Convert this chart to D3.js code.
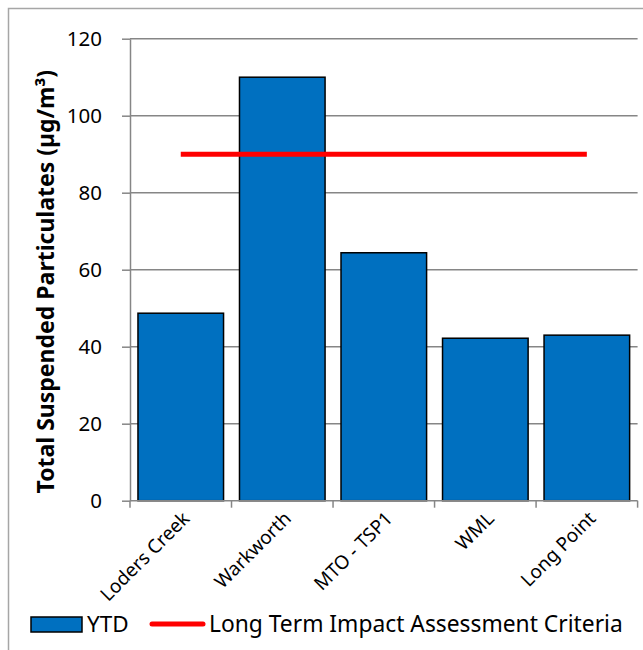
<!DOCTYPE html>
<html>
<head>
<meta charset="utf-8">
<script src="https://cdn.jsdelivr.net/npm/d3@7"></script>
<style>
  html, body { margin: 0; padding: 0; background: #fff; }
  svg { display: block; font-family: "Noto Sans", "Open Sans", sans-serif; }
</style>
</head>
<body>
<svg id="chart" width="643" height="650"></svg>
<script>
// Monitoring sites and their year-to-date TSP averages (µg/m³)
const categories = ["Loders Creek", "Warkworth", "MTO - TSP1", "WML", "Long Point"];
const ytdValues = [48.7, 110, 64.4, 42.2, 43.0];
// Long term impact assessment criterion at each site
const criteriaValues = [90, 90, 90, 90, 90];
const yTicks = [0, 20, 40, 60, 80, 100, 120];
const seriesNames = ["YTD", "Long Term Impact Assessment Criteria"];
const yTitle = "Total Suspended Particulates (µg/m³)";

const svg = d3.select("#chart");
const plot = { left: 130, right: 637.6, top: 38.7, bottom: 500.7 };
const gridColor = "#868686";
const barColor = "#0070c0";
const lineColor = "#ff0000";

// outer frame
svg.append("rect")
  .attr("x", 8.5).attr("y", 8.5)
  .attr("width", 660).attr("height", 660)
  .attr("fill", "none").attr("stroke", "#a6a6a6").attr("stroke-width", 1.5);

const x = d3.scaleBand()
  .domain(categories)
  .range([plot.left, plot.right])
  .paddingInner(0.157)
  .paddingOuter(0.0785);

const y = d3.scaleLinear()
  .domain([0, 120])
  .range([plot.bottom, plot.top]);

// horizontal gridlines
svg.append("g")
  .selectAll("line")
  .data(yTicks.filter(d => d > 0))
  .join("line")
  .attr("x1", plot.left).attr("x2", plot.right)
  .attr("y1", d => y(d)).attr("y2", d => y(d))
  .attr("stroke", gridColor).attr("stroke-width", 1.5);

// y axis
const yAxis = svg.append("g")
  .attr("transform", `translate(${plot.left},0)`)
  .call(d3.axisLeft(y).tickValues(yTicks).tickSize(8).tickPadding(20).tickSizeOuter(0));
yAxis.select(".domain").attr("stroke", gridColor).attr("stroke-width", 1.5);
yAxis.selectAll(".tick line").attr("stroke", gridColor).attr("stroke-width", 1.5);
yAxis.selectAll(".tick text")
  .attr("font-size", 20.5).attr("fill", "#000")
  .attr("font-family", "'Noto Sans', sans-serif");

// bars
svg.append("g")
  .selectAll("rect")
  .data(categories.map((c, i) => ({ c, v: ytdValues[i] })))
  .join("rect")
  .attr("x", d => x(d.c))
  .attr("y", d => y(d.v))
  .attr("width", x.bandwidth())
  .attr("height", d => y(0) - y(d.v))
  .attr("fill", barColor)
  .attr("stroke", "#000").attr("stroke-width", 1.5);

// x axis with ticks on category boundaries
const step = x.step();
const xAxisG = svg.append("g");
xAxisG.append("line")
  .attr("x1", plot.left).attr("x2", plot.right)
  .attr("y1", plot.bottom).attr("y2", plot.bottom)
  .attr("stroke", gridColor).attr("stroke-width", 1.5);
xAxisG.selectAll("line.tk")
  .data(d3.range(categories.length + 1))
  .join("line")
  .attr("class", "tk")
  .attr("x1", i => plot.left + i * step).attr("x2", i => plot.left + i * step)
  .attr("y1", plot.bottom).attr("y2", plot.bottom + 7)
  .attr("stroke", gridColor).attr("stroke-width", 1.5);

// rotated category labels
xAxisG.selectAll("text")
  .data(categories)
  .join("text")
  .attr("transform", c => `translate(${x(c) + x.bandwidth() / 2 + 10},${plot.bottom + 19}) rotate(-45)`)
  .attr("text-anchor", "end")
  .attr("font-size", 19)
  .attr("fill", "#000")
  .text(c => c);

// criteria line
const line = d3.line()
  .x((d, i) => x(categories[i]) + x.bandwidth() / 2)
  .y(d => y(d));
svg.append("path")
  .datum(criteriaValues)
  .attr("d", line)
  .attr("fill", "none")
  .attr("stroke", lineColor)
  .attr("stroke-width", 5);

// y axis title
svg.append("text")
  .attr("transform", `translate(54,${(plot.top + plot.bottom) / 2 + 12}) rotate(-90)`)
  .attr("text-anchor", "middle")
  .attr("font-size", 23)
  .attr("font-weight", "bold")
  .attr("fill", "#000")
  .text(yTitle);

// legend
const lg = svg.append("g");
lg.append("rect")
  .attr("x", 31).attr("y", 617).attr("width", 51).attr("height", 15)
  .attr("fill", barColor).attr("stroke", "#000").attr("stroke-width", 1.5);
lg.append("text")
  .attr("x", 87).attr("y", 632)
  .attr("font-size", 22.5).attr("fill", "#000")
  .text(seriesNames[0]);
lg.append("line")
  .attr("x1", 152).attr("x2", 203).attr("y1", 624).attr("y2", 624)
  .attr("stroke", lineColor).attr("stroke-width", 5).attr("stroke-linecap", "round");
lg.append("text")
  .attr("x", 209).attr("y", 632)
  .attr("font-size", 22.8).attr("fill", "#000")
  .text(seriesNames[1]);
</script>
</body>
</html>
